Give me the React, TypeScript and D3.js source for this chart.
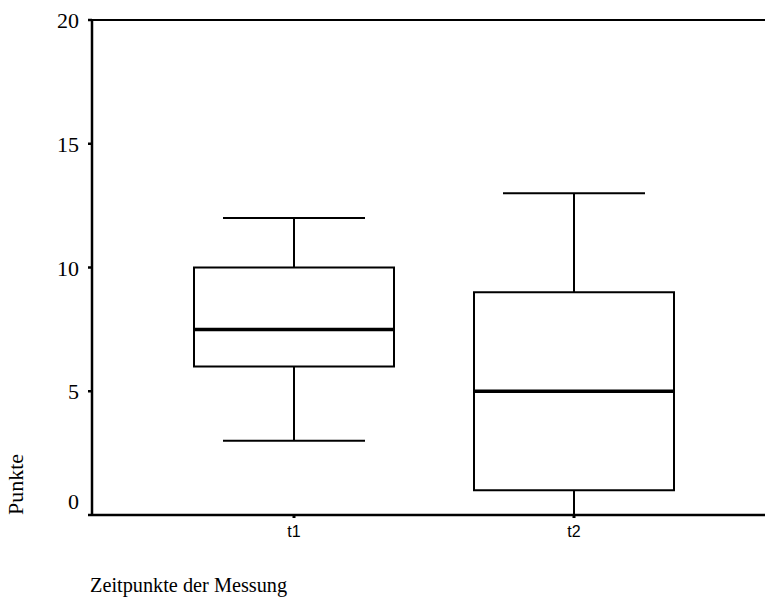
import React from "react";
import * as d3 from "d3";

const categories = ["t1", "t2"];
const whiskerLow = [3, 0];
const q1 = [6, 1];
const median = [7.5, 5];
const q3 = [10, 9];
const whiskerHigh = [12, 13];
const yTicks = [0, 5, 10, 15, 20];

const W = 765;
const H = 598;
const left = 92;
const top = 20;
const bottom = 515;

export default function App() {
  const y = d3.scaleLinear().domain([0, 20]).range([bottom, top]);
  const x = d3.scalePoint<string>().domain(categories).range([294, 574]);
  const boxW = 200;
  const capW = 142;
  return (
    <svg width={W} height={H} style={{ position: "absolute", left: 0, top: 0, background: "#fff" }}>
      <rect x={0} y={0} width={W} height={H} fill="#fff" />
      {categories.map((c, i) => {
        const cx = x(c)!;
        return (
          <g key={c} stroke="#000" fill="none">
            <line x1={cx} x2={cx} y1={y(whiskerHigh[i])} y2={y(q3[i])} strokeWidth={2} />
            <line x1={cx} x2={cx} y1={y(q1[i])} y2={y(whiskerLow[i])} strokeWidth={2} />
            <line x1={cx - capW / 2} x2={cx + capW / 2} y1={y(whiskerHigh[i])} y2={y(whiskerHigh[i])} strokeWidth={2} />
            <line x1={cx - capW / 2} x2={cx + capW / 2} y1={y(whiskerLow[i])} y2={y(whiskerLow[i])} strokeWidth={2} />
            <rect x={cx - boxW / 2} y={y(q3[i])} width={boxW} height={y(q1[i]) - y(q3[i])} strokeWidth={2} fill="#fff" />
            <line x1={cx - boxW / 2} x2={cx + boxW / 2} y1={y(median[i])} y2={y(median[i])} strokeWidth={3.5} />
          </g>
        );
      })}
      <line x1={left} x2={W} y1={top} y2={top} stroke="#000" strokeWidth={2} />
      <line x1={left} x2={W} y1={bottom} y2={bottom} stroke="#000" strokeWidth={2.5} />
      <line x1={left} x2={left} y1={top} y2={bottom} stroke="#000" strokeWidth={2.5} />
      {yTicks.map((t) => (
        <g key={t}>
          <line x1={left - 4} x2={left} y1={y(t)} y2={y(t)} stroke="#000" strokeWidth={2.5} />
          <text x={79} y={y(t) + (t === 0 ? -6 : 8)} textAnchor="end" fontFamily="Liberation Serif" fontSize={22}>
            {t}
          </text>
        </g>
      ))}
      {categories.map((c) => (
        <g key={c}>
          <line x1={x(c)!} x2={x(c)!} y1={bottom} y2={bottom + 3} stroke="#000" strokeWidth={3} />
          <text x={x(c)!} y={537} textAnchor="middle" fontFamily="Liberation Sans" fontSize={16}>
            {c}
          </text>
        </g>
      ))}
      <text x={90} y={592} fontFamily="Liberation Serif" fontSize={20.3}>
        Zeitpunkte der Messung
      </text>
      <text transform="translate(23,515) rotate(-90)" fontFamily="Liberation Serif" fontSize={22}>
        Punkte
      </text>
    </svg>
  );
}
